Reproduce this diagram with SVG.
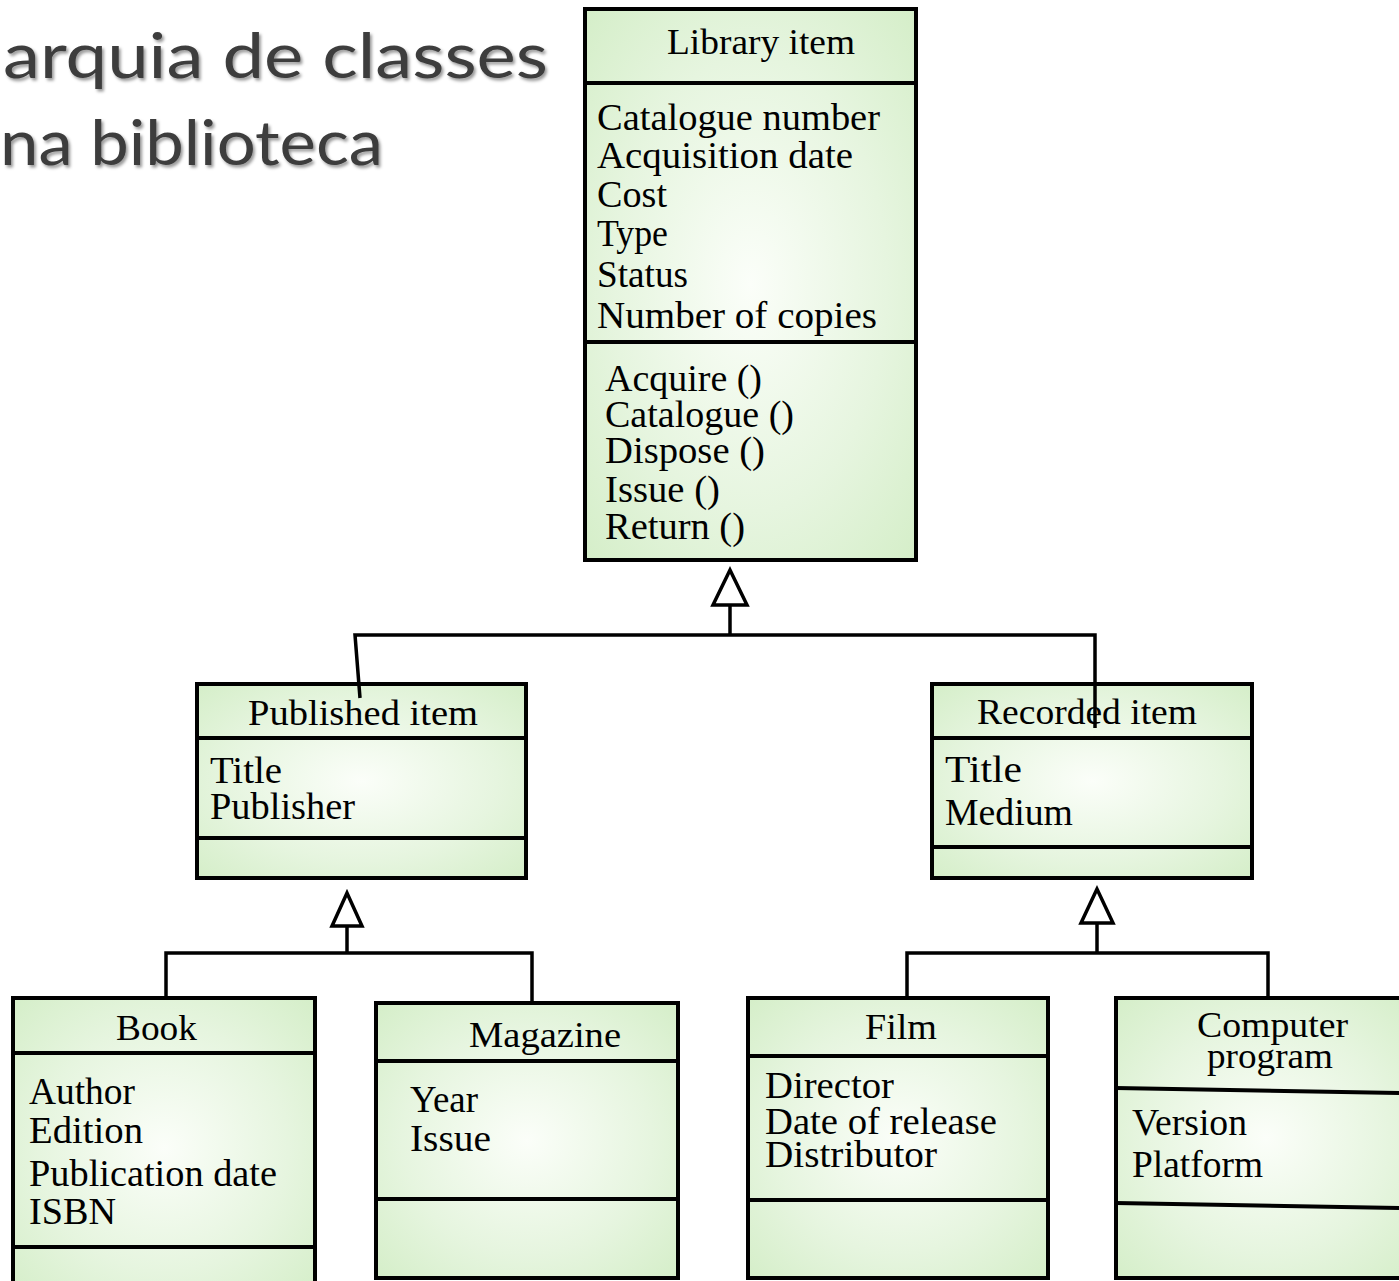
<svg xmlns="http://www.w3.org/2000/svg" width="1399" height="1281" viewBox="0 0 1399 1281">
<defs>
<radialGradient id="g" cx="0.5" cy="0.5" r="0.75">
<stop offset="0" stop-color="#fbfef9"/>
<stop offset="0.55" stop-color="#e6f5df"/>
<stop offset="1" stop-color="#d2edc5"/>
</radialGradient>
<filter id="sh" x="-5%" y="-20%" width="110%" height="150%">
<feDropShadow dx="2" dy="2.5" stdDeviation="1.5" flood-color="#000" flood-opacity="0.4"/>
</filter>
<style>
.box{fill:url(#g);stroke:#000;stroke-width:4}
.div{stroke:#000;stroke-width:4;fill:none}
.t{font-family:"Liberation Serif","Times New Roman",serif;font-size:37px;fill:#000}
.h{font-family:"Liberation Serif","Times New Roman",serif;font-size:36px;fill:#000}
.title{font-family:Lato,"Open Sans",sans-serif;font-size:61px;fill:#3c3c3c}
.c{stroke:#000;stroke-width:3.5;fill:none;stroke-linejoin:miter}
.tri{fill:#fff;stroke:#000;stroke-width:3.5}
</style>
</defs>
<rect width="1399" height="1281" fill="#fff"/>
<g id="title" filter="url(#sh)">
<text class="title" x="3" y="78" textLength="545" lengthAdjust="spacingAndGlyphs">arquia de classes</text>
<text class="title" x="0" y="165" textLength="383" lengthAdjust="spacingAndGlyphs">na biblioteca</text>
</g>
<g id="library-item">
<rect class="box" x="585" y="9" width="331" height="551"/>
<line class="div" x1="585" y1="83" x2="916" y2="83"/>
<line class="div" x1="585" y1="342" x2="916" y2="342"/>
<text class="h" x="667" y="54" textLength="188" lengthAdjust="spacingAndGlyphs">Library item</text>
<text class="t" x="597" y="130" textLength="283" lengthAdjust="spacingAndGlyphs">Catalogue number</text>
<text class="t" x="597" y="168" textLength="256" lengthAdjust="spacingAndGlyphs">Acquisition date</text>
<text class="t" x="597" y="207" textLength="70" lengthAdjust="spacingAndGlyphs">Cost</text>
<text class="t" x="597" y="246" textLength="71" lengthAdjust="spacingAndGlyphs">Type</text>
<text class="t" x="597" y="287" textLength="91" lengthAdjust="spacingAndGlyphs">Status</text>
<text class="t" x="597" y="328" textLength="280" lengthAdjust="spacingAndGlyphs">Number of copies</text>
<text class="t" x="605" y="391" textLength="157" lengthAdjust="spacingAndGlyphs">Acquire ()</text>
<text class="t" x="605" y="427" textLength="189" lengthAdjust="spacingAndGlyphs">Catalogue ()</text>
<text class="t" x="605" y="463" textLength="160" lengthAdjust="spacingAndGlyphs">Dispose ()</text>
<text class="t" x="605" y="502" textLength="115" lengthAdjust="spacingAndGlyphs">Issue ()</text>
<text class="t" x="605" y="539" textLength="140" lengthAdjust="spacingAndGlyphs">Return ()</text>
</g>
<g id="published-item">
<rect class="box" x="197" y="684" width="329" height="194"/>
<line class="div" x1="197" y1="738" x2="526" y2="738"/>
<line class="div" x1="197" y1="838" x2="526" y2="838"/>
<text class="h" x="248" y="725" textLength="230" lengthAdjust="spacingAndGlyphs">Published item</text>
<text class="t" x="210" y="783" textLength="72" lengthAdjust="spacingAndGlyphs">Title</text>
<text class="t" x="210" y="819" textLength="145" lengthAdjust="spacingAndGlyphs">Publisher</text>
</g>
<g id="recorded-item">
<rect class="box" x="932" y="684" width="320" height="194"/>
<line class="div" x1="932" y1="738" x2="1252" y2="738"/>
<line class="div" x1="932" y1="847" x2="1252" y2="847"/>
<text class="h" x="977" y="724" textLength="220" lengthAdjust="spacingAndGlyphs">Recorded item</text>
<text class="t" x="945" y="782" textLength="77" lengthAdjust="spacingAndGlyphs">Title</text>
<text class="t" x="945" y="825" textLength="128" lengthAdjust="spacingAndGlyphs">Medium</text>
</g>
<g id="book">
<rect class="box" x="13" y="998" width="302" height="300"/>
<line class="div" x1="13" y1="1053" x2="315" y2="1053"/>
<line class="div" x1="13" y1="1247" x2="315" y2="1247"/>
<text class="h" x="116" y="1040" textLength="81" lengthAdjust="spacingAndGlyphs">Book</text>
<text class="t" x="29" y="1104" textLength="106" lengthAdjust="spacingAndGlyphs">Author</text>
<text class="t" x="29" y="1143" textLength="114" lengthAdjust="spacingAndGlyphs">Edition</text>
<text class="t" x="29" y="1186" textLength="248" lengthAdjust="spacingAndGlyphs">Publication date</text>
<text class="t" x="29" y="1224" textLength="87" lengthAdjust="spacingAndGlyphs">ISBN</text>
</g>
<g id="magazine">
<rect class="box" x="376" y="1003" width="302" height="275"/>
<line class="div" x1="376" y1="1061" x2="678" y2="1061"/>
<line class="div" x1="376" y1="1199" x2="678" y2="1199"/>
<text class="h" x="469" y="1047" textLength="152" lengthAdjust="spacingAndGlyphs">Magazine</text>
<text class="t" x="410" y="1112" textLength="68" lengthAdjust="spacingAndGlyphs">Year</text>
<text class="t" x="410" y="1151" textLength="81" lengthAdjust="spacingAndGlyphs">Issue</text>
</g>
<g id="film">
<rect class="box" x="748" y="998" width="300" height="280"/>
<line class="div" x1="748" y1="1056" x2="1048" y2="1056"/>
<line class="div" x1="748" y1="1200" x2="1048" y2="1200"/>
<text class="h" x="865" y="1039" textLength="72" lengthAdjust="spacingAndGlyphs">Film</text>
<text class="t" x="765" y="1098" textLength="129" lengthAdjust="spacingAndGlyphs">Director</text>
<text class="t" x="765" y="1134" textLength="232" lengthAdjust="spacingAndGlyphs">Date of release</text>
<text class="t" x="765" y="1167" textLength="172" lengthAdjust="spacingAndGlyphs">Distributor</text>
</g>
<g id="computer-program">
<rect class="box" x="1116" y="998" width="300" height="280"/>
<line class="div" x1="1116" y1="1088" x2="1399" y2="1093"/>
<line class="div" x1="1116" y1="1203" x2="1399" y2="1208"/>
<text class="h" x="1197" y="1037" textLength="151" lengthAdjust="spacingAndGlyphs">Computer</text>
<text class="h" x="1207" y="1068" textLength="126" lengthAdjust="spacingAndGlyphs">program</text>
<text class="t" x="1132" y="1135" textLength="115" lengthAdjust="spacingAndGlyphs">Version</text>
<text class="t" x="1132" y="1177" textLength="131" lengthAdjust="spacingAndGlyphs">Platform</text>
</g>
<g id="connectors">
<polyline class="c" points="730,605 730,635"/>
<polyline class="c" points="360,698 355,635 1095,635 1095,728"/>
<polygon class="tri" points="730,570 713,605 747,605"/>
<polyline class="c" points="347,926 347,953"/>
<polyline class="c" points="166,998 166,953 532,953 532,1003"/>
<polygon class="tri" points="347,893 332,926 362,926"/>
<polyline class="c" points="1097,923 1097,953"/>
<polyline class="c" points="907,998 907,953 1268,953 1268,998"/>
<polygon class="tri" points="1097,889 1081,923 1113,923"/>
</g>
</svg>
